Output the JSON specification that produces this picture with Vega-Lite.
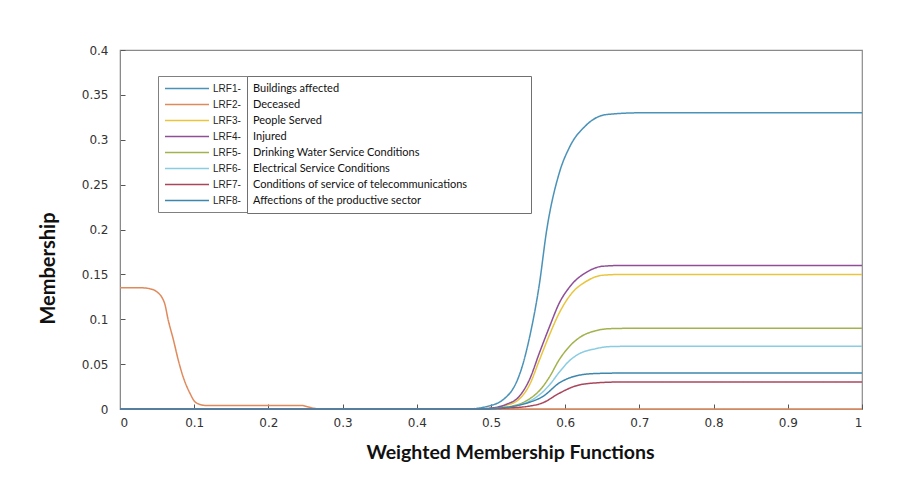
{
  "$schema": "https://vega.github.io/schema/vega-lite/v6.json",
  "width": 742,
  "height": 359,
  "autosize": {"type": "none"},
  "padding": {"left": 120, "top": 50, "right": 50, "bottom": 88},
  "background": "white",
  "config": {
    "view": {"stroke": "#8a8a8a", "strokeWidth": 1.2},
    "axis": {
      "grid": false,
      "domainColor": "#8a8a8a",
      "tickColor": "#555",
      "tickSize": -5,
      "labelFont": "DejaVu Sans",
      "labelFontSize": 12,
      "labelColor": "#333",
      "titleFont": "Lato",
      "titleFontWeight": "bold",
      "titleColor": "#111"
    }
  },
  "datasets": {
    "names": [
      {"c": "LRF1", "d": "Buildings affected"},
      {"c": "LRF2", "d": "Deceased"},
      {"c": "LRF3", "d": "People Served"},
      {"c": "LRF4", "d": "Injured"},
      {"c": "LRF5", "d": "Drinking Water Service Conditions"},
      {"c": "LRF6", "d": "Electrical Service Conditions"},
      {"c": "LRF7", "d": "Conditions of service of telecommunications"},
      {"c": "LRF8", "d": "Affections of the productive sector"}
    ]
  },
  "data": {
    "values": [
      {"c": "LRF1", "x": 0, "y": 0},
      {"c": "LRF1", "x": 0.47, "y": 0},
      {"c": "LRF1", "x": 0.49, "y": 0.002},
      {"c": "LRF1", "x": 0.5, "y": 0.004},
      {"c": "LRF1", "x": 0.51, "y": 0.007},
      {"c": "LRF1", "x": 0.52, "y": 0.013},
      {"c": "LRF1", "x": 0.53, "y": 0.023},
      {"c": "LRF1", "x": 0.54, "y": 0.042},
      {"c": "LRF1", "x": 0.552, "y": 0.08},
      {"c": "LRF1", "x": 0.565, "y": 0.138},
      {"c": "LRF1", "x": 0.575, "y": 0.199},
      {"c": "LRF1", "x": 0.592, "y": 0.263},
      {"c": "LRF1", "x": 0.606, "y": 0.292},
      {"c": "LRF1", "x": 0.628, "y": 0.316},
      {"c": "LRF1", "x": 0.655, "y": 0.328},
      {"c": "LRF1", "x": 0.7, "y": 0.33},
      {"c": "LRF1", "x": 1, "y": 0.33},

      {"c": "LRF2", "x": 0, "y": 0.135},
      {"c": "LRF2", "x": 0.03, "y": 0.135},
      {"c": "LRF2", "x": 0.04, "y": 0.134},
      {"c": "LRF2", "x": 0.049, "y": 0.131},
      {"c": "LRF2", "x": 0.06, "y": 0.118},
      {"c": "LRF2", "x": 0.065, "y": 0.099},
      {"c": "LRF2", "x": 0.072, "y": 0.077},
      {"c": "LRF2", "x": 0.079, "y": 0.053},
      {"c": "LRF2", "x": 0.085, "y": 0.036},
      {"c": "LRF2", "x": 0.094, "y": 0.018},
      {"c": "LRF2", "x": 0.101, "y": 0.008},
      {"c": "LRF2", "x": 0.108, "y": 0.005},
      {"c": "LRF2", "x": 0.115, "y": 0.004},
      {"c": "LRF2", "x": 0.245, "y": 0.004},
      {"c": "LRF2", "x": 0.255, "y": 0.002},
      {"c": "LRF2", "x": 0.265, "y": 0.0004},
      {"c": "LRF2", "x": 0.27, "y": 0},
      {"c": "LRF2", "x": 1, "y": 0},

      {"c": "LRF3", "x": 0, "y": 0},
      {"c": "LRF3", "x": 0.48, "y": 0},
      {"c": "LRF3", "x": 0.5, "y": 0.001},
      {"c": "LRF3", "x": 0.52, "y": 0.004},
      {"c": "LRF3", "x": 0.538, "y": 0.011},
      {"c": "LRF3", "x": 0.552, "y": 0.027},
      {"c": "LRF3", "x": 0.565, "y": 0.054},
      {"c": "LRF3", "x": 0.579, "y": 0.083},
      {"c": "LRF3", "x": 0.592, "y": 0.107},
      {"c": "LRF3", "x": 0.606, "y": 0.126},
      {"c": "LRF3", "x": 0.63, "y": 0.143},
      {"c": "LRF3", "x": 0.65, "y": 0.149},
      {"c": "LRF3", "x": 0.68, "y": 0.15},
      {"c": "LRF3", "x": 1, "y": 0.15},

      {"c": "LRF4", "x": 0, "y": 0},
      {"c": "LRF4", "x": 0.48, "y": 0},
      {"c": "LRF4", "x": 0.5, "y": 0.001},
      {"c": "LRF4", "x": 0.52, "y": 0.005},
      {"c": "LRF4", "x": 0.538, "y": 0.014},
      {"c": "LRF4", "x": 0.552, "y": 0.033},
      {"c": "LRF4", "x": 0.565, "y": 0.062},
      {"c": "LRF4", "x": 0.579, "y": 0.092},
      {"c": "LRF4", "x": 0.592, "y": 0.118},
      {"c": "LRF4", "x": 0.606, "y": 0.136},
      {"c": "LRF4", "x": 0.63, "y": 0.153},
      {"c": "LRF4", "x": 0.65, "y": 0.159},
      {"c": "LRF4", "x": 0.68, "y": 0.16},
      {"c": "LRF4", "x": 1, "y": 0.16},

      {"c": "LRF5", "x": 0, "y": 0},
      {"c": "LRF5", "x": 0.49, "y": 0},
      {"c": "LRF5", "x": 0.52, "y": 0.002},
      {"c": "LRF5", "x": 0.54, "y": 0.006},
      {"c": "LRF5", "x": 0.555, "y": 0.013},
      {"c": "LRF5", "x": 0.567, "y": 0.022},
      {"c": "LRF5", "x": 0.579, "y": 0.036},
      {"c": "LRF5", "x": 0.592, "y": 0.055},
      {"c": "LRF5", "x": 0.606, "y": 0.07},
      {"c": "LRF5", "x": 0.62, "y": 0.08},
      {"c": "LRF5", "x": 0.64, "y": 0.087},
      {"c": "LRF5", "x": 0.66, "y": 0.0895},
      {"c": "LRF5", "x": 0.7, "y": 0.09},
      {"c": "LRF5", "x": 1, "y": 0.09},

      {"c": "LRF6", "x": 0, "y": 0},
      {"c": "LRF6", "x": 0.49, "y": 0},
      {"c": "LRF6", "x": 0.52, "y": 0.0015},
      {"c": "LRF6", "x": 0.54, "y": 0.005},
      {"c": "LRF6", "x": 0.555, "y": 0.01},
      {"c": "LRF6", "x": 0.567, "y": 0.017},
      {"c": "LRF6", "x": 0.579, "y": 0.027},
      {"c": "LRF6", "x": 0.592, "y": 0.041},
      {"c": "LRF6", "x": 0.606, "y": 0.054},
      {"c": "LRF6", "x": 0.62, "y": 0.062},
      {"c": "LRF6", "x": 0.64, "y": 0.067},
      {"c": "LRF6", "x": 0.66, "y": 0.0695},
      {"c": "LRF6", "x": 0.7, "y": 0.07},
      {"c": "LRF6", "x": 1, "y": 0.07},

      {"c": "LRF7", "x": 0, "y": 0},
      {"c": "LRF7", "x": 0.49, "y": 0},
      {"c": "LRF7", "x": 0.52, "y": 0.001},
      {"c": "LRF7", "x": 0.55, "y": 0.003},
      {"c": "LRF7", "x": 0.57, "y": 0.007},
      {"c": "LRF7", "x": 0.592, "y": 0.0175},
      {"c": "LRF7", "x": 0.615, "y": 0.026},
      {"c": "LRF7", "x": 0.64, "y": 0.029},
      {"c": "LRF7", "x": 0.67, "y": 0.03},
      {"c": "LRF7", "x": 1, "y": 0.03},

      {"c": "LRF8", "x": 0, "y": 0},
      {"c": "LRF8", "x": 0.48, "y": 0},
      {"c": "LRF8", "x": 0.51, "y": 0.001},
      {"c": "LRF8", "x": 0.53, "y": 0.003},
      {"c": "LRF8", "x": 0.55, "y": 0.007},
      {"c": "LRF8", "x": 0.57, "y": 0.014},
      {"c": "LRF8", "x": 0.592, "y": 0.029},
      {"c": "LRF8", "x": 0.615, "y": 0.037},
      {"c": "LRF8", "x": 0.64, "y": 0.0395},
      {"c": "LRF8", "x": 0.67, "y": 0.04},
      {"c": "LRF8", "x": 1, "y": 0.04}
    ]
  },
  "transform": [
    {"lookup": "c", "from": {"data": {"name": "names"}, "key": "c", "fields": ["d"]}}
  ],
  "mark": {"type": "line", "interpolate": "monotone", "strokeWidth": 1.5},
  "encoding": {
    "x": {
      "field": "x", "type": "quantitative",
      "scale": {"domain": [0, 1], "nice": false},
      "axis": {
        "values": [0, 0.1, 0.2, 0.3, 0.4, 0.5, 0.6, 0.7, 0.8, 0.9, 1],
        "format": ".1~f",
        "labelPadding": 13,
        "title": "Weighted Membership Functions",
        "titleFontSize": 19.5,
        "titleX": 390,
        "titleY": 49,
        "titleAlign": "center",
        "titleBaseline": "alphabetic"
      }
    },
    "y": {
      "field": "y", "type": "quantitative",
      "scale": {"domain": [0, 0.4], "nice": false},
      "axis": {
        "values": [0, 0.05, 0.1, 0.15, 0.2, 0.25, 0.3, 0.35, 0.4],
        "format": ".2~f",
        "labelPadding": 17,
        "title": "Membership",
        "titleFontSize": 20,
        "titleX": -66,
        "titleY": 218,
        "titleAlign": "center",
        "titleBaseline": "alphabetic",
        "titleAngle": -90
      }
    },
    "color": {
      "field": "c", "type": "nominal",
      "scale": {
        "domain": ["LRF1", "LRF2", "LRF3", "LRF4", "LRF5", "LRF6", "LRF7", "LRF8"],
        "range": ["#4a92b8", "#e08a5c", "#e9c53e", "#8f4f97", "#a3b24c", "#8acde2", "#a9465c", "#3d87ad"]
      },
      "legend": {
        "title": null,
        "orient": "none",
        "legendX": 38,
        "legendY": 26,
        "padding": 6,
        "strokeColor": "#808080",
        "fillColor": "white",
        "symbolType": "M-1,0H7",
        "symbolSize": 121,
        "symbolStrokeWidth": 1.5,
        "rowPadding": 4,
        "labelOffset": 36,
        "labelFont": "Liberation Sans",
        "labelFontSize": 10,
        "labelColor": "#222",
        "labelExpr": "datum.label + '-'"
      }
    },
    "strokeDash": {
      "field": "d", "type": "nominal",
      "scale": {
        "domain": ["Buildings affected", "Deceased", "People Served", "Injured", "Drinking Water Service Conditions", "Electrical Service Conditions", "Conditions of service of telecommunications", "Affections of the productive sector"],
        "range": [[1, 0], [1, 0], [1, 0], [1, 0], [1, 0], [1, 0], [1, 0], [1, 0]]
      },
      "legend": {
        "title": null,
        "orient": "none",
        "legendX": 127,
        "legendY": 26,
        "padding": 7,
        "strokeColor": "#707070",
        "fillColor": "white",
        "symbolSize": 0,
        "symbolStrokeWidth": 0,
        "symbolOpacity": 0,
        "rowPadding": 4,
        "labelOffset": -12,
        "labelFont": "Lato",
        "labelFontSize": 11,
        "labelColor": "#111",
        "labelLimit": 400,
        "labelExpr": "datum.label + '\u2800\u2800\u2800\u2800\u2800\u2800\u2800'"
      }
    }
  }
}
